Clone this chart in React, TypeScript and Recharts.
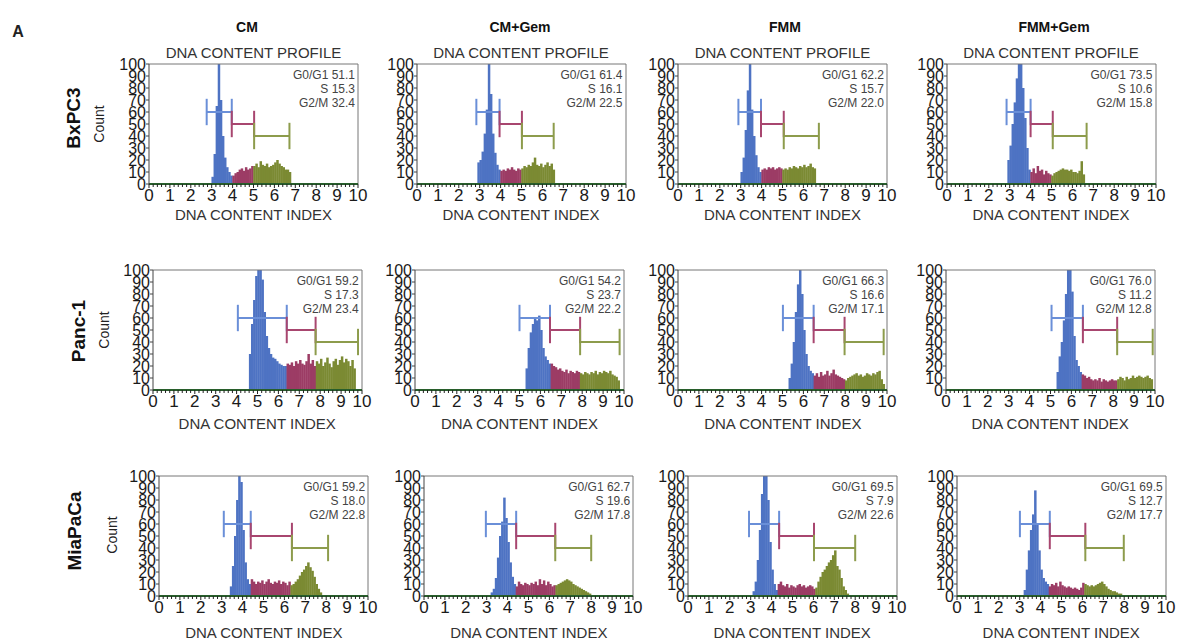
import React from "react";
import { BarChart, Bar, XAxis, YAxis, ReferenceLine } from "recharts";

const ROWS = ["BxPC3", "Panc-1", "MiaPaCa"];
const COLUMNS = ["CM", "CM+Gem", "FMM", "FMM+Gem"];
const PHASES = ["G0/G1", "S", "G2/M"];
const Y_TICKS = [0, 10, 20, 30, 40, 50, 60, 70, 80, 90, 100];
const X_LABELS = ["0", "1", "2", "3", "4", "5", "6", "7", "8", "9", "10"];
// gate bracket heights (count units) for G0/G1, S, G2/M
const GATE_LEVELS = [60, 50, 40];
const BIN = 0.1;

// ---- BxPC3 ----
const BXPC3_CM_START = 3.0;
const BXPC3_CM_G1 = [6, 25, 65, 100, 70, 40, 22, 14, 10, 7];
const BXPC3_CM_S = [7, 9, 10, 12, 13, 11, 14, 12, 13, 15];
const BXPC3_CM_G2 = [15, 17, 14, 19, 16, 15, 17, 14, 15, 16, 18, 20, 17, 15, 14, 12, 12, 10];
const BXPC3_CM_GATES = [2.76, 3.96, 5.03, 6.72];
const BXPC3_CM_PCT = [51.1, 15.3, 32.4];

const BXPC3_CMG_START = 2.9;
const BXPC3_CMG_G1 = [18, 20, 27, 42, 62, 100, 75, 42, 26, 16, 12];
const BXPC3_CMG_S = [11, 12, 11, 13, 12, 14, 12, 11, 13, 12];
const BXPC3_CMG_G2 = [13, 15, 14, 16, 15, 18, 22, 16, 15, 17, 14, 16, 18, 15, 17, 12];
const BXPC3_CMG_GATES = [2.84, 3.95, 5.02, 6.54];
const BXPC3_CMG_PCT = [61.4, 16.1, 22.5];

const BXPC3_FMM_START = 3.0;
const BXPC3_FMM_G1 = [10, 22, 45, 78, 100, 62, 40, 24, 14, 10];
const BXPC3_FMM_S = [12, 13, 12, 14, 13, 14, 12, 13, 14, 13];
const BXPC3_FMM_G2 = [12, 13, 12, 14, 13, 15, 14, 13, 15, 14, 16, 14, 15, 17, 14, 13];
const BXPC3_FMM_GATES = [2.89, 3.97, 5.06, 6.74];
const BXPC3_FMM_PCT = [62.2, 15.7, 22.0];

const BXPC3_FMMG_START = 2.9;
const BXPC3_FMMG_G1 = [20, 32, 50, 68, 88, 100, 100, 80, 55, 30, 12];
const BXPC3_FMMG_S = [10, 13, 9, 15, 11, 12, 8, 11, 9, 8];
const BXPC3_FMMG_G2 = [7, 9, 10, 11, 12, 13, 12, 12, 11, 12, 10, 10, 9, 11, 19, 8];
const BXPC3_FMMG_GATES = [2.85, 4.0, 5.06, 6.68];
const BXPC3_FMMG_PCT = [73.5, 10.6, 15.8];

// ---- Panc-1 ----
const PANC_CM_START = 4.6;
const PANC_CM_G1 = [30, 55, 75, 95, 100, 100, 92, 65, 45, 35, 30, 27, 26, 24, 22, 21, 20, 20];
const PANC_CM_S = [22, 21, 23, 20, 24, 22, 25, 22, 21, 24, 30, 22, 25, 20];
const PANC_CM_G2 = [24, 22, 26, 20, 23, 27, 22, 19, 24, 26, 21, 25, 28, 23, 26, 24, 20, 25, 18];
const PANC_CM_GATES = [4.06, 6.4, 7.78, 9.81];
const PANC_CM_PCT = [59.2, 17.3, 23.4];

const PANC_CMG_START = 5.3;
const PANC_CMG_G1 = [18, 35, 48, 55, 60, 58, 62, 50, 35, 28, 25, 22];
const PANC_CMG_S = [22, 20, 19, 17, 18, 16, 15, 17, 14, 16, 15, 14, 16, 15];
const PANC_CMG_G2 = [14, 13, 15, 14, 13, 15, 14, 16, 13, 15, 14, 16, 15, 14, 16, 13, 12, 11, 8];
const PANC_CMG_GATES = [5.0, 6.46, 7.9, 9.79];
const PANC_CMG_PCT = [54.2, 23.7, 22.2];

const PANC_FMM_START = 5.3;
const PANC_FMM_G1 = [10, 22, 40, 65, 88, 100, 80, 50, 30, 20, 16, 14];
const PANC_FMM_S = [12, 14, 11, 15, 12, 13, 16, 12, 14, 17, 13, 12, 11, 10, 9];
const PANC_FMM_G2 = [8, 10, 11, 12, 13, 14, 12, 13, 11, 12, 14, 13, 12, 14, 13, 15, 16, 9, 5];
const PANC_FMM_GATES = [5.02, 6.49, 7.97, 9.84];
const PANC_FMM_PCT = [66.3, 16.6, 17.1];

const PANC_FMMG_START = 5.3;
const PANC_FMMG_G1 = [15, 28, 40, 58, 80, 100, 100, 82, 45, 25, 20, 15];
const PANC_FMMG_S = [13, 12, 10, 11, 9, 8, 9, 8, 10, 7, 9, 8, 7, 8, 9, 8, 8];
const PANC_FMMG_G2 = [9, 11, 10, 8, 11, 9, 10, 12, 10, 11, 12, 11, 10, 11, 12, 10, 9];
const PANC_FMMG_GATES = [5.05, 6.55, 8.19, 9.89];
const PANC_FMMG_PCT = [76.0, 11.2, 12.8];

// ---- MiaPaCa ----
const MIA_CM_START = 3.4;
const MIA_CM_G1 = [8, 25, 50, 80, 100, 95, 55, 28, 14, 10];
const MIA_CM_S = [14, 12, 10, 12, 11, 13, 10, 12, 14, 11, 10, 12, 11, 13, 10, 12, 11, 9, 12];
const MIA_CM_G2 = [9, 10, 12, 14, 17, 20, 22, 25, 28, 24, 21, 16, 10, 6, 3];
const MIA_CM_GATES = [3.1, 4.39, 6.36, 8.09];
const MIA_CM_PCT = [59.2, 18.0, 22.8];

const MIA_CMG_START = 3.2;
const MIA_CMG_G1 = [3, 6, 15, 32, 50, 62, 82, 65, 45, 28, 16, 10];
const MIA_CMG_S = [8, 12, 10, 9, 11, 10, 9, 11, 10, 12, 9, 14, 10, 13, 9, 12, 10, 8, 9];
const MIA_CMG_G2 = [9, 10, 11, 12, 13, 14, 13, 12, 10, 9, 8, 7, 6, 5, 4, 3, 2];
const MIA_CMG_GATES = [2.96, 4.41, 6.28, 8.0];
const MIA_CMG_PCT = [62.7, 19.6, 17.8];

const MIA_FMM_START = 3.1;
const MIA_FMM_G1 = [4, 12, 30, 55, 85, 100, 100, 80, 45, 22, 10, 5];
const MIA_FMM_S = [10, 12, 9, 8, 10, 7, 9, 8, 7, 9, 10, 8, 9, 7, 8, 9, 8, 6];
const MIA_FMM_G2 = [7, 12, 16, 20, 22, 25, 28, 30, 34, 38, 25, 22, 15, 8, 5, 2];
const MIA_FMM_GATES = [2.92, 4.36, 6.03, 8.0];
const MIA_FMM_PCT = [69.5, 7.9, 22.6];

const MIA_FMMG_START = 3.2;
const MIA_FMMG_G1 = [5, 22, 38, 55, 68, 88, 60, 38, 22, 15, 12, 10];
const MIA_FMMG_S = [8, 10, 9, 11, 8, 12, 9, 8, 7, 8, 7, 6, 7, 6, 5, 7, 11];
const MIA_FMMG_G2 = [10, 9, 8, 9, 8, 9, 10, 11, 12, 10, 8, 6, 5, 4, 4, 3, 2, 2];
const MIA_FMMG_GATES = [3.01, 4.44, 6.14, 7.98];
const MIA_FMMG_PCT = [69.5, 12.7, 17.7];

type PanelData = { start: number; hist: number[][]; gates: number[]; pct: number[] };

const PANELS: PanelData[][] = [
  [
    { start: BXPC3_CM_START, hist: [BXPC3_CM_G1, BXPC3_CM_S, BXPC3_CM_G2], gates: BXPC3_CM_GATES, pct: BXPC3_CM_PCT },
    { start: BXPC3_CMG_START, hist: [BXPC3_CMG_G1, BXPC3_CMG_S, BXPC3_CMG_G2], gates: BXPC3_CMG_GATES, pct: BXPC3_CMG_PCT },
    { start: BXPC3_FMM_START, hist: [BXPC3_FMM_G1, BXPC3_FMM_S, BXPC3_FMM_G2], gates: BXPC3_FMM_GATES, pct: BXPC3_FMM_PCT },
    { start: BXPC3_FMMG_START, hist: [BXPC3_FMMG_G1, BXPC3_FMMG_S, BXPC3_FMMG_G2], gates: BXPC3_FMMG_GATES, pct: BXPC3_FMMG_PCT },
  ],
  [
    { start: PANC_CM_START, hist: [PANC_CM_G1, PANC_CM_S, PANC_CM_G2], gates: PANC_CM_GATES, pct: PANC_CM_PCT },
    { start: PANC_CMG_START, hist: [PANC_CMG_G1, PANC_CMG_S, PANC_CMG_G2], gates: PANC_CMG_GATES, pct: PANC_CMG_PCT },
    { start: PANC_FMM_START, hist: [PANC_FMM_G1, PANC_FMM_S, PANC_FMM_G2], gates: PANC_FMM_GATES, pct: PANC_FMM_PCT },
    { start: PANC_FMMG_START, hist: [PANC_FMMG_G1, PANC_FMMG_S, PANC_FMMG_G2], gates: PANC_FMMG_GATES, pct: PANC_FMMG_PCT },
  ],
  [
    { start: MIA_CM_START, hist: [MIA_CM_G1, MIA_CM_S, MIA_CM_G2], gates: MIA_CM_GATES, pct: MIA_CM_PCT },
    { start: MIA_CMG_START, hist: [MIA_CMG_G1, MIA_CMG_S, MIA_CMG_G2], gates: MIA_CMG_GATES, pct: MIA_CMG_PCT },
    { start: MIA_FMM_START, hist: [MIA_FMM_G1, MIA_FMM_S, MIA_FMM_G2], gates: MIA_FMM_GATES, pct: MIA_FMM_PCT },
    { start: MIA_FMMG_START, hist: [MIA_FMMG_G1, MIA_FMMG_S, MIA_FMMG_G2], gates: MIA_FMMG_GATES, pct: MIA_FMMG_PCT },
  ],
];

// layout (page pixels)
const PLOT_W = 209;
const PLOT_H = 120;
const PLOT_TOP = [64, 270, 476];
const PLOT_LEFT = [
  [149, 416.5, 678, 946.5],
  [152.7, 415, 678.3, 945.7],
  [159.3, 424.3, 687.7, 956.7],
];
const INDEX_Y = [214, 423, 632];
const COUNT_POS = [[99, 124], [104, 330], [111.5, 535]];
const ROW_LABEL_POS = [[73, 118], [78, 331], [74, 531]];
const HEADER_X = [247, 520, 785, 1054];

const PHASE_COLORS = ["#4e73c3", "#9c3c65", "#7b8a33"];
const GATE_COLORS = ["#6a8fd8", "#a8466f", "#8d9c4c"];
const FONT = "'Liberation Sans', Arial, sans-serif";

const MARGIN_L = 10;
const YAXIS_W = 30;
const MARGIN_T = 10;
const XAXIS_H = 30;
const AXIS_Y = MARGIN_T + PLOT_H;
const MINOR_TICKS = Array.from({ length: 51 }, (_, i) => +(i * 0.2).toFixed(1));
// pixel width of one histogram bin, plus a hair so neighbours close up
const BIN_PX = (PLOT_W / 10) * BIN + 0.4;

function buildBins(start: number, hist: number[][]) {
  const out: { x: number; count: number; phase: number }[] = [];
  let k = 0;
  hist.forEach((arr, phase) => {
    arr.forEach((v) => {
      out.push({ x: +(start + (k + 0.5) * BIN).toFixed(3), count: v, phase });
      k++;
    });
  });
  return out;
}

const BinShape = (p: any) => {
  if (!p.height || p.height <= 0) return <g />;
  const cx = p.x + p.width / 2;
  return <rect x={cx - BIN_PX / 2} y={p.y} width={BIN_PX} height={p.height} fill={PHASE_COLORS[p.payload.phase]} />;
};

const XTick = (props: any) => {
  const { x, payload } = props;
  const v = payload.value;
  const major = Math.abs(v - Math.round(v)) < 1e-6;
  return (
    <g>
      <line x1={x} x2={x} y1={AXIS_Y} y2={AXIS_Y + (major ? 4 : 3)} stroke="#222" strokeWidth={1} />
      {major && (
        <text x={x} y={AXIS_Y + 11} dy="0.36em" textAnchor="middle" fontSize={17} fill="#1a1a1a">
          {X_LABELS[Math.round(v)]}
        </text>
      )}
    </g>
  );
};

function Txt({ x, y, children, size, bold, rotate, align, color }: any) {
  const tx = align === "right" ? "-100%" : "-50%";
  return (
    <div
      style={{
        position: "absolute",
        left: x,
        top: y,
        transform: `translate(${tx}, -50%)${rotate ? " rotate(-90deg)" : ""}`,
        fontSize: size,
        fontWeight: bold ? 700 : 400,
        color: color || "#222",
        whiteSpace: "nowrap",
        lineHeight: 1,
      }}
    >
      {children}
    </div>
  );
}

function Panel({ data, row, col }: { data: PanelData; row: number; col: number }) {
  const left = PLOT_LEFT[row][col];
  const top = PLOT_TOP[row];
  const bins = buildBins(data.start, data.hist);
  return (
    <>
      <div style={{ position: "absolute", left: left - MARGIN_L - YAXIS_W, top: top - MARGIN_T }}>
        <BarChart
          width={MARGIN_L + YAXIS_W + PLOT_W + 10}
          height={MARGIN_T + PLOT_H + XAXIS_H}
          data={bins}
          margin={{ top: MARGIN_T, right: 10, bottom: 0, left: MARGIN_L }}
          barGap={0}
          barCategoryGap={0}
        >
          <XAxis
            type="number"
            dataKey="x"
            domain={[0, 10]}
            ticks={MINOR_TICKS}
            interval={0}
            tickLine={false}
            tickSize={0}
            tick={<XTick />}
            axisLine={{ stroke: "#222" }}
            height={XAXIS_H}
            allowDataOverflow
          />
          <YAxis
            type="number"
            domain={[0, 100]}
            ticks={Y_TICKS}
            interval={0}
            width={YAXIS_W}
            tickSize={3}
            tickMargin={0}
            tick={{ fontSize: 16, fill: "#1a1a1a" }}
            axisLine={{ stroke: "#444" }}
            tickLine={{ stroke: "#444" }}
            allowDataOverflow
          />
          <ReferenceLine y={100} stroke="#777" ifOverflow="visible" />
          <ReferenceLine x={10} stroke="#777" ifOverflow="visible" />
          <Bar dataKey="count" shape={<BinShape />} isAnimationActive={false} />
          <ReferenceLine y={0} stroke="#2f9a35" strokeWidth={2} ifOverflow="visible" />
          {GATE_LEVELS.map((lv, p) => {
            const a = data.gates[p];
            const b = data.gates[p + 1];
            const c = GATE_COLORS[p];
            return [
              <ReferenceLine key={`h${p}`} segment={[{ x: a, y: lv }, { x: b, y: lv }]} stroke={c} strokeWidth={2} ifOverflow="visible" />,
              <ReferenceLine key={`l${p}`} segment={[{ x: a, y: lv - 11 }, { x: a, y: lv + 11 }]} stroke={c} strokeWidth={2} ifOverflow="visible" />,
              <ReferenceLine key={`r${p}`} segment={[{ x: b, y: lv - 11 }, { x: b, y: lv + 11 }]} stroke={c} strokeWidth={2} ifOverflow="visible" />,
            ];
          })}
        </BarChart>
      </div>
      {row === 0 && (
        <Txt x={left + PLOT_W / 2} y={52} size={15} color="#333">
          DNA CONTENT PROFILE
        </Txt>
      )}
      {PHASES.map((ph, p) => (
        <Txt key={ph} x={left + PLOT_W - 3} y={top + 10.5 + p * 14} size={12} align="right" color="#444">
          {`${ph} ${data.pct[p].toFixed(1)}`}
        </Txt>
      ))}
      <Txt x={left + PLOT_W / 2} y={INDEX_Y[row]} size={15} color="#333">
        DNA CONTENT INDEX
      </Txt>
    </>
  );
}

export default function App() {
  return (
    <div
      style={{
        position: "absolute",
        left: 0,
        top: 0,
        width: 1186,
        height: 642,
        background: "#fff",
        overflow: "hidden",
        fontFamily: FONT,
      }}
    >
      <Txt x={18} y={32} size={16} bold>
        A
      </Txt>
      {COLUMNS.map((c, i) => (
        <Txt key={c} x={HEADER_X[i]} y={27} size={14} bold color="#111">
          {c}
        </Txt>
      ))}
      {ROWS.map((r, i) => (
        <React.Fragment key={r}>
          <Txt x={ROW_LABEL_POS[i][0]} y={ROW_LABEL_POS[i][1]} size={19} bold rotate color="#111">
            {r}
          </Txt>
          <Txt x={COUNT_POS[i][0]} y={COUNT_POS[i][1]} size={14} rotate color="#222">
            Count
          </Txt>
        </React.Fragment>
      ))}
      {PANELS.map((row, ri) => row.map((p, ci) => <Panel key={`${ri}-${ci}`} data={p} row={ri} col={ci} />))}
    </div>
  );
}
